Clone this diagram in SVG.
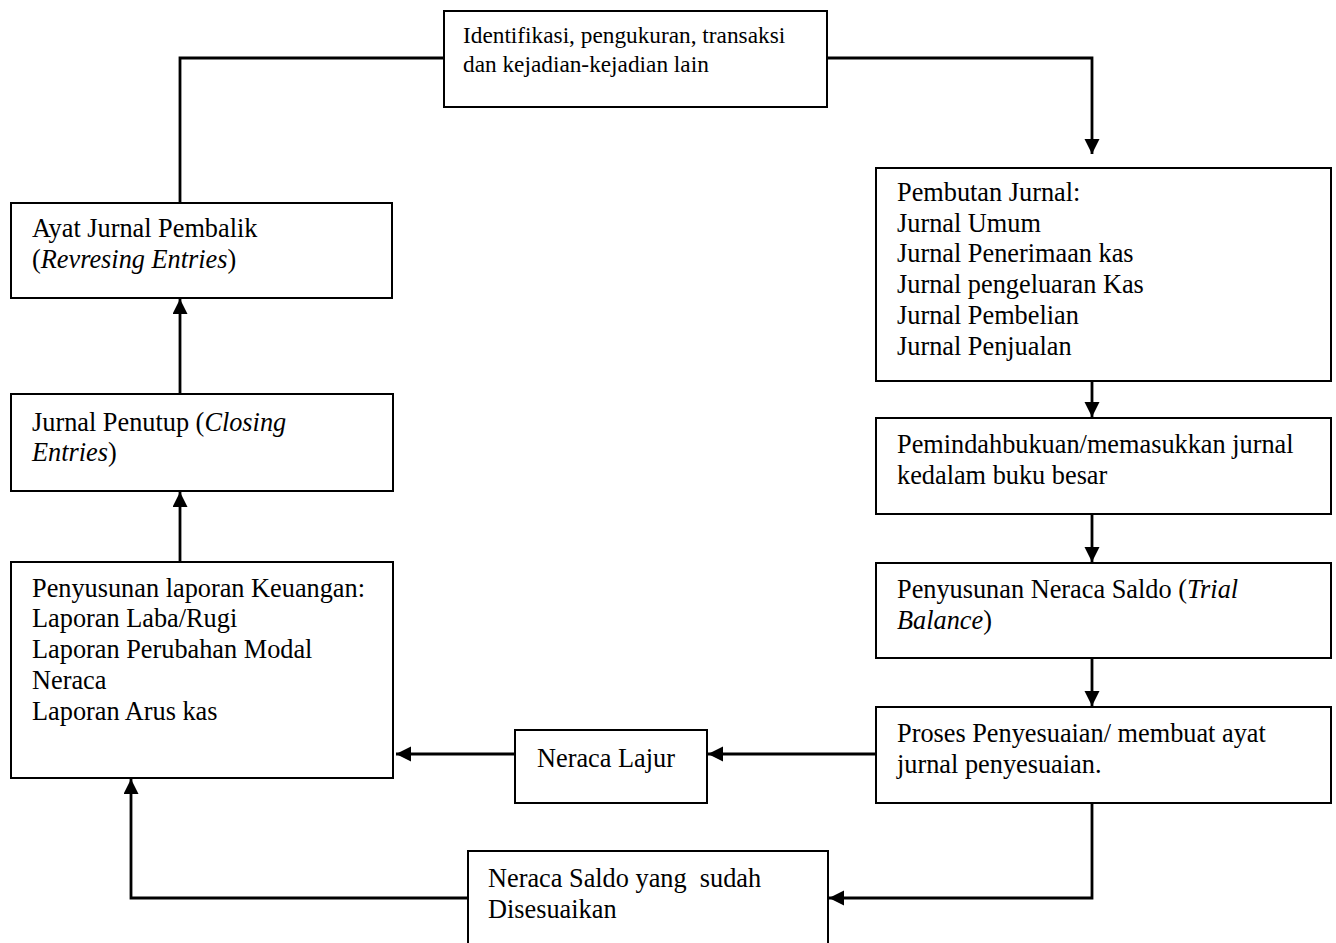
<svg xmlns="http://www.w3.org/2000/svg" width="1336" height="943" viewBox="0 0 1336 943">
<style>
.box{fill:#fff;stroke:#000;stroke-width:2}
.t{font-family:"Liberation Serif","Times New Roman",serif;font-size:26.3px;fill:#000}
.ts{font-family:"Liberation Serif","Times New Roman",serif;font-size:23.3px;fill:#000}
.c{fill:none;stroke:#000;stroke-width:2.8}
</style>
<defs>
<marker id="ah" markerUnits="userSpaceOnUse" markerWidth="17" markerHeight="16" refX="15" refY="7.5" orient="auto" viewBox="0 0 17 16">
<path d="M0,0 L15,7.5 L0,15 Z" fill="#000"/>
</marker>
</defs>
<g id="connectors">
<path class="c" d="M444,58 H180 V203"/>
<path class="c" d="M827,58 H1092 V154" marker-end="url(#ah)"/>
<path class="c" d="M1092,369 V417" marker-end="url(#ah)"/>
<path class="c" d="M1092,514 V562" marker-end="url(#ah)"/>
<path class="c" d="M1092,658 V706" marker-end="url(#ah)"/>
<path class="c" d="M876,754 H708" marker-end="url(#ah)"/>
<path class="c" d="M515,754 H396" marker-end="url(#ah)"/>
<path class="c" d="M1092,803 V898 H829" marker-end="url(#ah)"/>
<path class="c" d="M468,898 H131 V779" marker-end="url(#ah)"/>
<path class="c" d="M180,562 V492" marker-end="url(#ah)"/>
<path class="c" d="M180,394 V299" marker-end="url(#ah)"/>
</g>
<g id="n-identifikasi">
<rect class="box" x="444" y="11" width="383" height="96"/>
<text class="ts" x="463" y="43">Identifikasi, pengukuran, transaksi</text>
<text class="ts" x="463" y="72">dan kejadian-kejadian lain</text>
</g>
<g id="n-pembuatan">
<rect class="box" x="876" y="168" width="455" height="213"/>
<text class="t" x="897" y="201">Pembutan Jurnal:</text>
<text class="t" x="897" y="232">Jurnal Umum</text>
<text class="t" x="897" y="262">Jurnal Penerimaan kas</text>
<text class="t" x="897" y="293">Jurnal pengeluaran Kas</text>
<text class="t" x="897" y="324">Jurnal Pembelian</text>
<text class="t" x="897" y="355">Jurnal Penjualan</text>
</g>
<g id="n-pemindahbukuan">
<rect class="box" x="876" y="418" width="455" height="96"/>
<text class="t" x="897" y="453">Pemindahbukuan/memasukkan jurnal</text>
<text class="t" x="897" y="484">kedalam buku besar</text>
</g>
<g id="n-neraca-saldo">
<rect class="box" x="876" y="563" width="455" height="95"/>
<text class="t" x="897" y="598">Penyusunan Neraca Saldo (<tspan font-style="italic">Trial</tspan></text>
<text class="t" x="897" y="629"><tspan font-style="italic">Balance</tspan>)</text>
</g>
<g id="n-penyesuaian">
<rect class="box" x="876" y="707" width="455" height="96"/>
<text class="t" x="897" y="742">Proses Penyesuaian/ membuat ayat</text>
<text class="t" x="897" y="773">jurnal penyesuaian.</text>
</g>
<g id="n-neraca-lajur">
<rect class="box" x="515" y="730" width="192" height="73"/>
<text class="t" x="537" y="767">Neraca Lajur</text>
</g>
<g id="n-disesuaikan">
<rect class="box" x="468" y="851" width="360" height="100"/>
<text class="t" x="488" y="887" xml:space="preserve">Neraca Saldo yang  sudah</text>
<text class="t" x="488" y="918">Disesuaikan</text>
</g>
<g id="n-laporan">
<rect class="box" x="11" y="562" width="382" height="216"/>
<text class="t" x="32" y="597">Penyusunan laporan Keuangan:</text>
<text class="t" x="32" y="627">Laporan Laba/Rugi</text>
<text class="t" x="32" y="658">Laporan Perubahan Modal</text>
<text class="t" x="32" y="689">Neraca</text>
<text class="t" x="32" y="720">Laporan Arus kas</text>
</g>
<g id="n-penutup">
<rect class="box" x="11" y="394" width="382" height="97"/>
<text class="t" x="32" y="431">Jurnal Penutup (<tspan font-style="italic">Closing</tspan></text>
<text class="t" x="32" y="461"><tspan font-style="italic">Entries</tspan>)</text>
</g>
<g id="n-pembalik">
<rect class="box" x="11" y="203" width="381" height="95"/>
<text class="t" x="32" y="237">Ayat Jurnal Pembalik</text>
<text class="t" x="32" y="268">(<tspan font-style="italic">Revresing Entries</tspan>)</text>
</g>
</svg>
